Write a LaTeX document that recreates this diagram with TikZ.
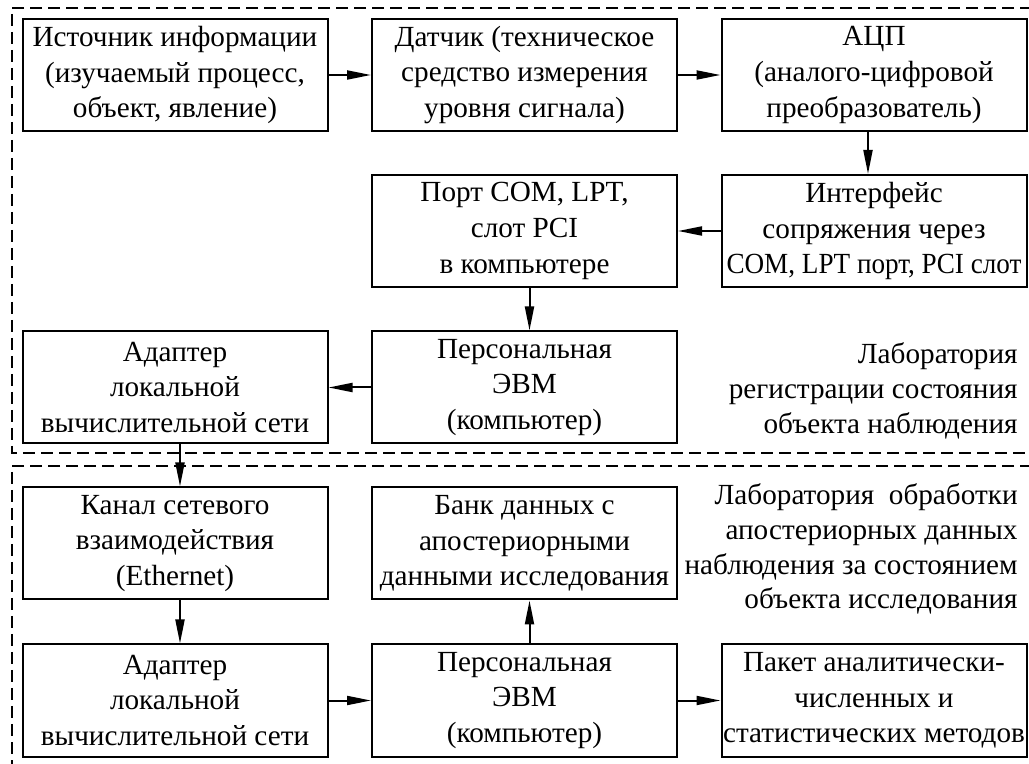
\documentclass[tikz,border=0pt]{standalone}
\usepackage{fontspec}
\setmainfont{Liberation Serif}
\usetikzlibrary{arrows.meta}

\tikzset{
  box/.style={draw, line width=1pt, minimum width=152.5pt, minimum height=56pt,
    inner sep=0pt, align=center, font=\fontsize{14.6pt}{17.8pt}\selectfont},
  lab/.style={align=right, anchor=east, inner sep=0pt,
    font=\fontsize{14.6pt}{17.4pt}\selectfont},
  arr/.style={line width=1pt, -{Triangle[length=12pt,width=4.5pt]}},
  zone/.style={line width=1pt, dash pattern=on 6pt off 3pt},
}

\begin{document}
\begin{tikzpicture}[x=0.5pt, y=-0.5pt]
  \useasboundingbox (0,0) rectangle (1029,764);

  % dashed zones of the two laboratories
  \draw[zone] (1032,8) -- (12,8) -- (12,453) -- (1032,453);
  \draw[zone] (1032,466) -- (12,466) -- (12,768);

  % first laboratory
  \node[box] (src)  at (175,75)    {Источник информации\\(изучаемый процесс,\\объект, явление)};
  \node[box] (dat)  at (524.5,75)  {Датчик (техническое\\средство измерения\\уровня сигнала)};
  \node[box] (adc)  at (874,75)    {АЦП\\(аналого-цифровой\\преобразователь)};
  \node[box] (ifc)  at (874,231)   {Интерфейс\\сопряжения через\\\scalebox{0.93}[1]{COM, LPT порт, PCI слот}};
  \node[box] (port) at (524.5,231) {Порт COM, LPT,\\слот PCI\\в компьютере};
  \node[box] (pc1)  at (524.5,387.5) {Персональная\\ЭВМ\\(компьютер)};
  \node[box] (ad1)  at (175,387.5) {Адаптер\\локальной\\вычислительной сети};
  \node[lab] (lab1) at (1018,391) {Лаборатория\\регистрации состояния\\объекта наблюдения};

  % second laboratory
  \node[box] (net)  at (175,543.5) {Канал сетевого\\взаимодействия\\(Ethernet)};
  \node[box] (bank) at (524.5,543.5) {Банк данных с\\апостериорными\\данными исследования};
  \node[box] (ad2)  at (175,700.5) {Адаптер\\локальной\\вычислительной сети};
  \node[box] (pc2)  at (524.5,700.5) {Персональная\\ЭВМ\\(компьютер)};
  \node[box] (pkg)  at (874,700.5) {Пакет аналитически-\\численных и\\статистических методов};
  \node[lab] (lab2) at (1018,549) {Лаборатория\ \ обработки\\апостериорных данных\\наблюдения за состоянием\\объекта исследования};

  % connectors
  \draw[arr] (src.east) -- (dat.west);
  \draw[arr] (dat.east) -- (adc.west);
  \draw[arr] ([xshift=-3pt]adc.south) -- ([xshift=-3pt]ifc.north);
  \draw[arr] (ifc.west) -- (port.east);
  \draw[arr] ([xshift=2.5pt]port.south) -- ([xshift=2.5pt]pc1.north);
  \draw[arr] (pc1.west) -- (ad1.east);
  \draw[arr] ([xshift=2.5pt]ad1.south) -- ([xshift=2.5pt]net.north);
  \draw[arr] ([xshift=2.5pt]net.south) -- ([xshift=2.5pt]ad2.north);
  \draw[arr] (ad2.east) -- (pc2.west);
  \draw[arr] ([xshift=2.5pt]pc2.north) -- ([xshift=2.5pt]bank.south);
  \draw[arr] (pc2.east) -- (pkg.west);
\end{tikzpicture}
\end{document}
